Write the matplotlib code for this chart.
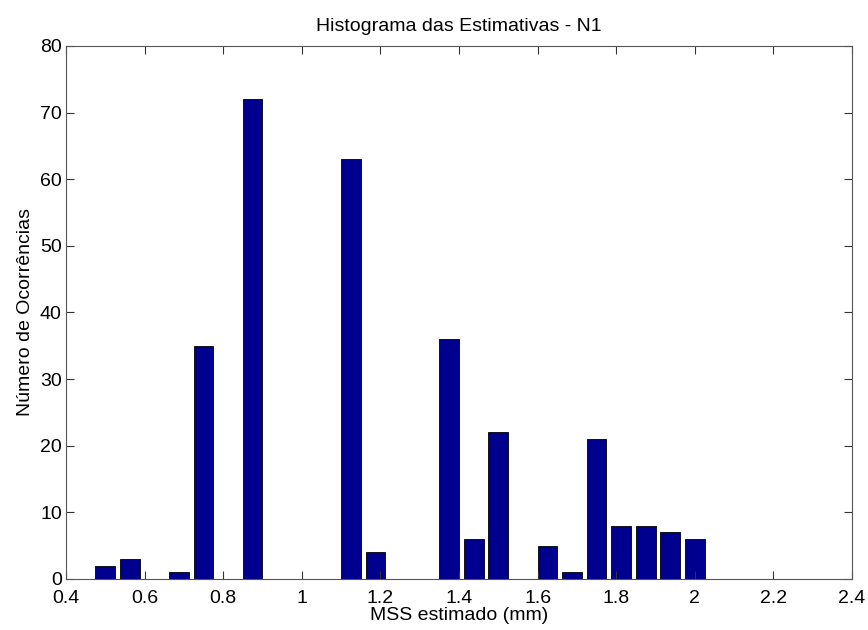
#coding:utf-8

# MATLAB-style histogram of the MSS estimates (N1)

import numpy as np
from matplotlib import pyplot as plt

# bin centers (mm) and counts
bin_first = 0.5
bin_step = 0.0625
counts = [2, 3, 0, 1, 35, 0, 72, 0, 0, 0, 63, 4, 0, 0, 36, 6, 22, 0, 5, 1, 21, 8, 8, 7, 6]
centers = bin_first + bin_step * np.arange(len(counts))

x_ticks = [0.4, 0.6, 0.8, 1.0, 1.2, 1.4, 1.6, 1.8, 2.0, 2.2, 2.4]
x_tick_labels = ['0.4', '0.6', '0.8', '1', '1.2', '1.4', '1.6', '1.8', '2', '2.2', '2.4']
y_ticks = [0, 10, 20, 30, 40, 50, 60, 70, 80]

plt.rcParams['font.family'] = ['Liberation Sans', 'DejaVu Sans']

fig = plt.figure(figsize=(8.68, 6.3), dpi=100)
ax = fig.add_axes([0.076, 0.081, 0.9056, 0.846])

ax.bar(centers, counts, width=bin_step * 0.8, color='#00008F', edgecolor='black', linewidth=0.6)

ax.set_xlim(0.4, 2.4)
ax.set_ylim(0, 80)
ax.set_xticks(x_ticks)
ax.set_xticklabels(x_tick_labels)
ax.set_yticks(y_ticks)
ax.tick_params(direction='in', top=True, right=True, labelsize=14, length=6,
               colors='#333333', labelcolor='black')
ax.tick_params(axis='x', pad=8)
ax.tick_params(axis='y', pad=3)
for s in ax.spines.values():
    s.set_color('#555555')

ax.set_title('Histograma das Estimativas - N1', fontsize=14, pad=11)
ax.set_xlabel('MSS estimado (mm)', fontsize=14, labelpad=0)
ax.set_ylabel('Número de Ocorrências', fontsize=14, labelpad=4)

plt.savefig('out.png', dpi=100)
